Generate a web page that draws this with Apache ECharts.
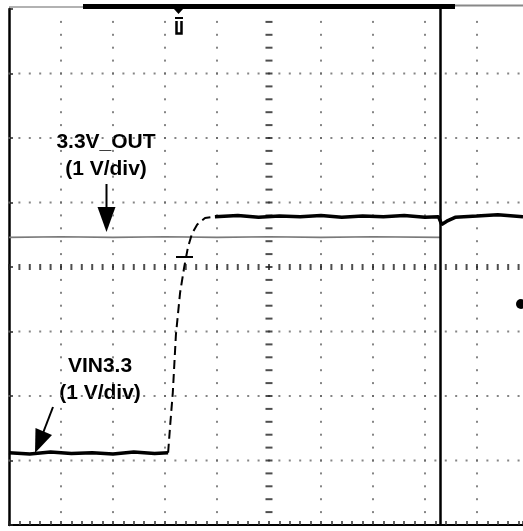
<!DOCTYPE html>
<html>
<head>
<meta charset="utf-8">
<script src="https://cdn.jsdelivr.net/npm/echarts@6/dist/echarts.min.js"></script>
<style>
  html, body { margin: 0; padding: 0; background: #fff; }
  #main { width: 523px; height: 531px; }
</style>
</head>
<body>
<div id="main"></div>
<script>
(function() {
    var myChart = echarts.init(document.getElementById('main'));

    // screen divisions (x: time div, y: volt div), 0 = bottom/left edge of the graticule
    var xMax = 9.885;
    var yDivs = 8;
    var cursorX = 8.29;     // vertical cursor

    // VIN3.3 (black): low level, rising edge, high level
    var vinLow = [[0, 1.12], [0.4, 1.10], [0.8, 1.13], [1.2, 1.11], [1.6, 1.12], [2.0, 1.10],
                  [2.4, 1.13], [2.8, 1.11], [3.06, 1.12]];
    var vinEdge = [[3.06, 1.12], [3.10, 1.55], [3.15, 2.05], [3.21, 2.95], [3.29, 3.60],
                   [3.37, 4.00], [3.44, 4.30], [3.52, 4.52], [3.62, 4.66], [3.77, 4.76], [3.96, 4.78]];
    var vinHigh = [[3.96, 4.78], [4.4, 4.80], [4.8, 4.77], [5.2, 4.79], [5.6, 4.78], [6.0, 4.80],
                   [6.4, 4.77], [6.8, 4.79], [7.2, 4.78], [7.6, 4.80], [8.0, 4.77], [8.26, 4.78],
                   [8.32, 4.66], [8.42, 4.71], [8.58, 4.77], [9.0, 4.79], [9.4, 4.81], [9.885, 4.78]];

    // 3.3V_OUT (grey), flat until the cursor
    var outLevel = [[0, 4.46], [1.0, 4.47], [2.0, 4.46], [3.0, 4.47], [4.0, 4.46], [5.0, 4.47],
                    [6.0, 4.46], [7.0, 4.47], [8.29, 4.46]];

    // graticule dots every 1/5 div on the major lines
    var dots = [];
    var k, j;
    for (k = 1; k < yDivs; k++) {
        if (k === 4) continue;
        for (j = 0; j <= xMax * 5; j++) dots.push([j / 5, k]);
    }
    for (k = 1; k <= 9; k++) {
        if (k === 5) continue;
        for (j = 1; j < yDivs * 5; j++) dots.push([k, j / 5]);
    }
    var rowTicks = [];   // centre horizontal line
    for (j = 0; j <= xMax * 5; j++) rowTicks.push([j / 5, 4]);
    var colTicks = [];   // centre vertical line
    for (j = 1; j < yDivs * 5; j++) colTicks.push([5, j / 5]);

    var font = 'bold 21px "Liberation Sans", Arial, sans-serif';

    var option = {
        backgroundColor: '#fff',
        animation: false,
        grid: { left: 9, top: 9, width: 514, height: 516, outerBoundsMode: 'none' },
        xAxis: {
            type: 'value', min: 0, max: xMax, interval: 1,
            axisLine: { show: true, onZero: false, lineStyle: { color: '#000', width: 2 } },
            axisTick: { show: true, inside: true, length: 4, lineStyle: { color: '#222', width: 1.5 } },
            minorTick: { show: true, splitNumber: 5, length: 4, lineStyle: { color: '#333', width: 1.5 } },
            axisLabel: { show: false },
            splitLine: { show: false }
        },
        yAxis: {
            type: 'value', min: 0, max: yDivs, interval: 1,
            axisLine: { show: true, onZero: false, lineStyle: { color: '#000', width: 2.5 } },
            axisTick: { show: true, inside: true, length: 4, lineStyle: { color: '#222', width: 1.5 } },
            axisLabel: { show: false },
            splitLine: { show: false }
        },
        series: [
            {
                name: 'dots', type: 'scatter', symbol: 'rect', symbolSize: 2, silent: true,
                itemStyle: { color: '#666' }, data: dots
            },
            {
                name: 'rowTicks', type: 'scatter', symbol: 'rect', symbolSize: [2, 6], silent: true,
                itemStyle: { color: '#222' }, data: rowTicks
            },
            {
                name: 'colTicks', type: 'scatter', symbol: 'rect', symbolSize: [7, 2], silent: true,
                itemStyle: { color: '#222' }, data: colTicks
            },
            {
                name: '3.3V_OUT', type: 'line', showSymbol: false, data: outLevel,
                lineStyle: { color: '#7a7a7a', width: 1.6 },
                markLine: {
                    silent: true, symbol: 'none', label: { show: false },
                    lineStyle: { color: '#000', width: 2.5, type: 'solid' },
                    data: [{ xAxis: cursorX }]
                }
            },
            {
                name: 'VIN3.3', type: 'line', showSymbol: false, data: vinLow,
                lineStyle: { color: '#000', width: 3.5 }
            },
            {
                name: 'VIN3.3 edge', type: 'line', showSymbol: false, data: vinEdge,
                lineStyle: { color: '#000', width: 2, type: [9, 5] }
            },
            {
                name: 'VIN3.3 high', type: 'line', showSymbol: false, data: vinHigh,
                lineStyle: { color: '#000', width: 3.5 }
            }
        ],
        graphic: [
            // top record bar
            { type: 'line', shape: { x1: 9, y1: 7, x2: 83, y2: 7 }, style: { stroke: '#999', lineWidth: 1.5 } },
            { type: 'rect', shape: { x: 83, y: 4, width: 372, height: 5 }, style: { fill: '#000' } },
            { type: 'line', shape: { x1: 455, y1: 5.5, x2: 523, y2: 5.5 }, style: { stroke: '#888', lineWidth: 2 } },
            // trigger position marker
            { type: 'polygon', shape: { points: [[174, 9], [183, 9], [178.5, 14]] }, style: { fill: '#000' } },
            { type: 'rect', shape: { x: 175, y: 17, width: 8, height: 2 }, style: { fill: '#000' } },
            { type: 'polyline', shape: { points: [[176.5, 21], [176.5, 33.5], [181.5, 33.5], [181.5, 21]] },
              style: { stroke: '#000', lineWidth: 2.5, fill: null } },
            // trigger level marker
            { type: 'line', shape: { x1: 176, y1: 257, x2: 193, y2: 257 }, style: { stroke: '#000', lineWidth: 2 } },
            // channel marker at right edge
            { type: 'circle', shape: { cx: 521, cy: 304, r: 5 }, style: { fill: '#000' } },
            // labels
            { type: 'text', x: 106, y: 142, style: { text: '3.3V_OUT', font: font, fill: '#000', align: 'center', verticalAlign: 'middle' } },
            { type: 'text', x: 106, y: 169, style: { text: '(1 V/div)', font: font, fill: '#000', align: 'center', verticalAlign: 'middle' } },
            { type: 'text', x: 100, y: 366, style: { text: 'VIN3.3', font: font, fill: '#000', align: 'center', verticalAlign: 'middle' } },
            { type: 'text', x: 100, y: 393, style: { text: '(1 V/div)', font: font, fill: '#000', align: 'center', verticalAlign: 'middle' } },
            // arrows
            { type: 'line', shape: { x1: 106.5, y1: 184, x2: 106.5, y2: 210 }, style: { stroke: '#000', lineWidth: 2 } },
            { type: 'polygon', shape: { points: [[97.5, 207], [115.5, 207], [106.5, 232]] }, style: { fill: '#000' } },
            { type: 'line', shape: { x1: 53, y1: 407, x2: 43, y2: 433 }, style: { stroke: '#000', lineWidth: 2 } },
            { type: 'polygon', shape: { points: [[35.5, 428], [52, 435], [35, 453]] }, style: { fill: '#000' } }
        ]
    };

    myChart.setOption(option);
})();
</script>
</body>
</html>
